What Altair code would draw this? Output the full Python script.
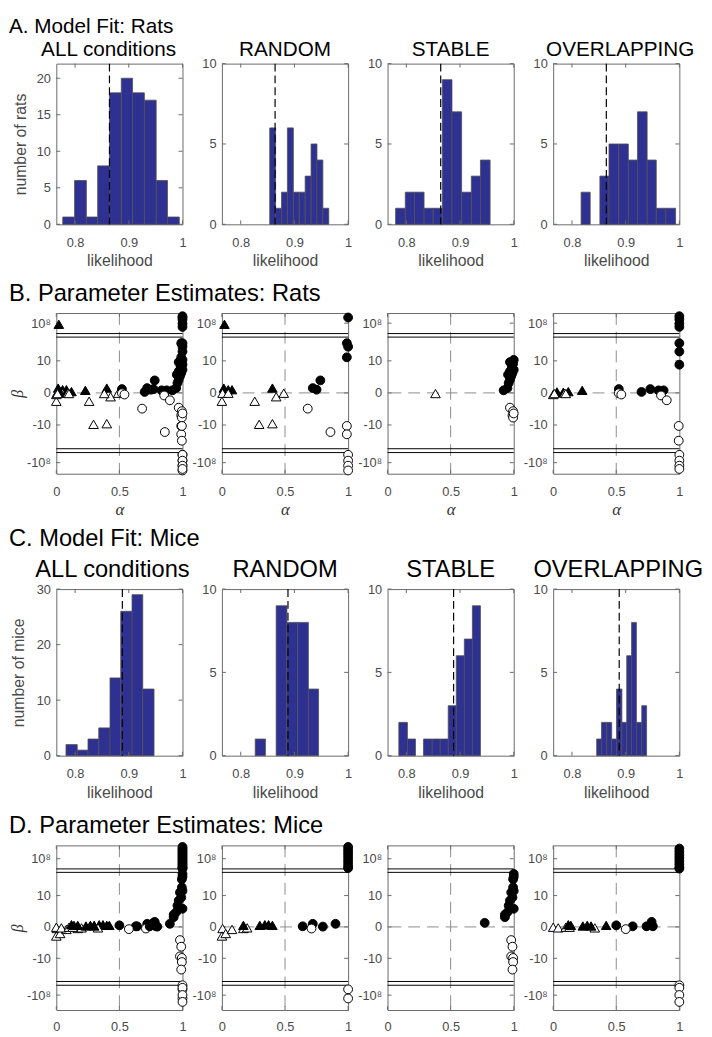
import altair as alt
import pandas as pd
import numpy as np

# ---------------- Histogram data: bin edges and counts ----------------
rats_all_edges = [0.777, 0.799, 0.821, 0.842, 0.864, 0.886, 0.907, 0.929, 0.951, 0.972, 0.994]
rats_all_counts = [1, 6, 1, 8, 18, 20, 18, 17, 6, 1]
rats_random_edges = [0.854, 0.865, 0.876, 0.887, 0.898, 0.909, 0.920, 0.931, 0.942, 0.953, 0.964]
rats_random_counts = [6, 1, 2, 6, 2, 2, 3, 5, 4, 1]
rats_stable_edges = [0.780, 0.798, 0.815, 0.833, 0.850, 0.867, 0.885, 0.903, 0.921, 0.938, 0.956]
rats_stable_counts = [1, 2, 2, 1, 1, 9, 7, 2, 3, 4]
rats_overlap_edges = [0.817, 0.834, 0.852, 0.869, 0.887, 0.905, 0.922, 0.940, 0.957, 0.975, 0.993]
rats_overlap_counts = [2, 0, 3, 5, 5, 4, 7, 4, 1, 1]

mice_all_edges = [0.783, 0.804, 0.824, 0.844, 0.865, 0.885, 0.906, 0.926, 0.947]
mice_all_counts = [2, 1, 3, 5, 14, 26, 29, 12]
mice_random_edges = [0.827, 0.846, 0.866, 0.886, 0.906, 0.926, 0.945]
mice_random_counts = [1, 0, 9, 8, 8, 4]
mice_stable_edges = [0.786, 0.802, 0.817, 0.832, 0.848, 0.863, 0.878, 0.893, 0.908, 0.923, 0.938]
mice_stable_counts = [2, 1, 0, 1, 1, 1, 3, 6, 7, 9]
mice_overlap_edges = [0.846, 0.855, 0.865, 0.874, 0.883, 0.893, 0.902, 0.911, 0.920, 0.930, 0.939]
mice_overlap_counts = [1, 2, 2, 1, 4, 2, 6, 8, 2, 3]

rats_threshold = [0.864]
mice_threshold = [0.888]

# ---------------- Parameter estimates (alpha, beta) ----------------
rats_random_alpha = [0.02, 0.015, 0.05, 0.08, 0.40, 0.005, 0.0, 0.05, 0.26, 0.43, 0.49, 0.295, 0.40,
                     0.68, 0.86, 0.99, 0.99, 1.0, 1.0, 1.0, 1.0, 1.0, 0.99, 1.0, 0.99, 0.78, 0.72, 0.75]
rats_random_beta = [4e7, 1.5, 1.0, 1.0, 1.5, -0.1, -2.6, -0.1, -2.6, -1.2, -0.1, -9.8, -9.6,
                    -4.9, -12.2, -10.3, -12.9, -1.9e5, -2e7, -1.1e9, -5e10, 9e9, 15.5, 14.4, 11.1, 3.9, 1.5, 1.0]

rats_stable_alpha = [0.38, 0.92, 0.95, 0.96, 0.97, 0.955, 0.97, 0.99, 0.995, 0.97, 1.0, 0.99, 1.0, 0.98,
                     0.985, 0.97, 0.995, 0.99, 0.995, 1.0]
rats_stable_beta = [-0.2, 0.8, 1.5, 3.1, 4.1, 5.7, 6.7, 7.7, 9.1, 9.6, 10.3, 6.2, 7.2, 5.2,
                    8.3, -4.6, -5.7, -7.0, -7.7, -6.4]

rats_overlap_alpha = [0.03, 0.08, 0.12, 0.23, 0.0, 0.01, 0.09, 0.10, 0.52, 0.70, 0.77, 0.835, 0.875,
                      0.52, 0.54, 0.855, 0.90, 1.0, 1.0, 1.0, 1.0, 1.0, 1.0, 1.0, 0.995, 0.995,
                      1.0, 1.0, 1.0, 1.0]
rats_overlap_beta = [0.3, 0.2, 0.4, 0.8, -0.5, -0.2, -0.1, -0.2, 1.2, 0.3, 1.2, 0.8, 0.8,
                     -0.1, -0.5, -0.8, -2.3, 2.5e10, 2e9, 7e7, 5e6, 15.5, 12.9, 8.8, -10.3, -14.9,
                     -1.9e5, -2e7, -1.1e9, -1.5e10]

mice_random_alpha = [0.005, 0.0, 0.03, 0.08, 0.17, 0.20, 0.17, 0.30, 0.34, 0.37, 0.40, 0.64, 0.72,
                     0.80, 0.90, 0.71, 1.0, 1.0, 1.0, 1.0, 1.0, 1.0, 1.0, 1.0, 1.0, 1.0]
mice_random_beta = [-0.5, -2.9, -2.1, -0.8, -0.5, -0.3, 0.5, 0.5, 0.7, 0.7, 0.5, 0.2, 1.0,
                    0.1, 1.0, -0.5, 1.5e12, 1.1e11, 9e9, 7e8, 5e7, 4e6, 3e5, 5e4, -9e5, -1.5e9]

mice_stable_alpha = [0.77, 0.93, 0.93, 0.95, 0.96, 0.97, 0.98, 0.995, 0.995, 1.0, 0.99, 1.0, 1.0, 1.0,
                     0.98, 0.99, 0.98, 0.995, 0.995, 0.99]
mice_stable_beta = [1.3, 3.1, 3.9, 4.7, 6.8, 8.4, 11.0, 12.6, 15.2, 5.8, 9.4, 11.5, 16.0, 16.9,
                    -4.2, -6.3, -9.4, -9.9, -11.2, -13.6]

mice_overlap_alpha = [0.0, 0.04, 0.10, 0.13, 0.33, 0.12, 0.14, 0.235, 0.27, 0.30, 0.42, 0.50, 0.63,
                      0.74, 0.78, 0.79, 0.575, 1.0, 1.0, 1.0, 1.0, 1.0, 1.0, 1.0, 1.0,
                      1.0, 1.0, 1.0, 1.0]
mice_overlap_beta = [-0.1, -0.3, -0.1, -0.1, -0.3, 0.7, 0.5, 0.3, 0.5, 0.3, 0.5, 0.5, 0.2,
                     0.2, 1.6, 0.2, -0.7, 4e11, 3e10, 2.5e9, 2e8, 1.5e7, 1.1e6, 9e4, 3.2e4,
                     -3.2e4, -2.5e5, -9e7, -2.5e10]

# axis ticks / break levels of the broken beta axis
beta_tick_values = [-1e8, -10, 0, 10, 1e8]
axis_break_levels = [17.4, 18.5, -17.4, -18.6]
hist_x_ticks = [0.8, 0.9, 1.0]
alpha_ticks = [0, 0.5, 1]
ref_alpha = [0.5]
ref_beta = [0.0]

# ---------------- styling ----------------
FONT = "Liberation Sans"
SERIF = "Liberation Serif"
TXT = "#4a4a4a"
BAR = "#2e3192"
FRAME = "#6a6a6a"
W = 128
HA, HB, HC, HD = 163, 163, 169, 167
TICK = 4


def to_axis(b):
    """Broken axis: linear near zero, compressed log for huge values."""
    if abs(b) <= 17.0:
        return float(b)
    return float(np.sign(b) * (18.6 + (np.log10(abs(b)) - 4.5) * 0.9))


def text_layer(text, x, y, align, size):
    return alt.Chart(pd.DataFrame({"t": [text]})).mark_text(
        align=align, baseline="alphabetic", font=FONT, fontSize=size, color="black"
    ).encode(text="t:N", x=alt.value(x), y=alt.value(y))


def inner_ticks(xvals, xsc, xax, yvals, ysc, yax, height):
    """MATLAB-style inward tick marks on all four sides of the box."""
    xdf = pd.DataFrame({"tx": xvals})
    ydf = pd.DataFrame({"ty": yvals})
    style = dict(color=FRAME, strokeWidth=1)
    top = alt.Chart(xdf).mark_rule(**style).encode(
        x=alt.X("tx:Q", scale=xsc, axis=xax), y=alt.value(0), y2=alt.value(TICK))
    bottom = alt.Chart(xdf).mark_rule(**style).encode(
        x=alt.X("tx:Q", scale=xsc, axis=xax), y=alt.value(height), y2=alt.value(height - TICK))
    left = alt.Chart(ydf).mark_rule(**style).encode(
        y=alt.Y("ty:Q", scale=ysc, axis=yax), x=alt.value(0), x2=alt.value(TICK))
    right = alt.Chart(ydf).mark_rule(**style).encode(
        y=alt.Y("ty:Q", scale=ysc, axis=yax), x=alt.value(W), x2=alt.value(W - TICK))
    return [top, bottom, left, right]


def hist_panel(edges, counts, ymax, yticks, thr, height, ylabel, sub, sub_y, sub_dx,
               heading=None, head_y=0, head_size=24, sub_size=24, ytitle_x=-36):
    df = pd.DataFrame({"lo": edges[:-1], "hi": edges[1:], "n": counts})
    df = df[df["n"] > 0]
    xsc = alt.Scale(domain=[0.765, 1.0], nice=False, zero=False)
    ysc = alt.Scale(domain=[0, ymax], nice=False)
    xax = alt.Axis(values=hist_x_ticks, format="~g", labelFlush=False, labelPadding=12,
                   title="likelihood", titleX=W / 2, titleY=42, titleBaseline="alphabetic",
                   titleAlign="center", titleFontSize=16)
    if ylabel:
        yax = alt.Axis(values=yticks, labelPadding=6, title=ylabel, titleX=ytitle_x,
                       titleY=height / 2, titleBaseline="middle", titleAlign="center",
                       titleAngle=270, titleFontSize=16)
    else:
        yax = alt.Axis(values=yticks, labelPadding=6, title=None)
    bars = alt.Chart(df).mark_rect(color=BAR, stroke="#505050", strokeWidth=0.8).encode(
        x=alt.X("lo:Q", scale=xsc, axis=xax),
        x2="hi:Q",
        y=alt.Y("n:Q", scale=ysc, axis=yax),
        y2=alt.datum(0),
    )
    rule = alt.Chart(pd.DataFrame({"thr": thr})).mark_rule(
        color="black", strokeDash=[8, 4], strokeWidth=1.2
    ).encode(x=alt.X("thr:Q", scale=xsc, axis=xax))
    layers = [bars, rule] + inner_ticks(hist_x_ticks, xsc, xax, yticks, ysc, yax, height)
    layers.append(text_layer(sub, W / 2 + sub_dx, sub_y, "center", sub_size))
    if heading:
        layers.append(text_layer(heading, -48, head_y, "left", head_size))
    return alt.layer(*layers).properties(width=W, height=height)


def scatter_panel(alpha, beta, height, ydom, first, heading=None, head_y=0, show_alpha=True):
    df = pd.DataFrame({"alpha": alpha, "beta": beta})
    df["u"] = [to_axis(b) for b in beta]
    df["shape"] = np.where(df["alpha"] < 0.5, "triangle-up", "circle")
    df["fill"] = np.where(df["beta"] > 0, "black", "white")
    df["size"] = np.where(df["alpha"] < 0.5, 95, 80)
    xsc = alt.Scale(domain=[0, 1], nice=False, zero=False)
    ysc = alt.Scale(domain=ydom, nice=False, zero=False)
    tick_u = [to_axis(v) for v in beta_tick_values]
    lab = ("datum.value > 15 ? '10\u2078' : (datum.value < -15 ? '-10\u2078' : "
           "(datum.value < 0 ? '-' + format(-datum.value, 'd') : format(datum.value, 'd')))")
    if show_alpha:
        xax = alt.Axis(values=alpha_ticks, format="~g", labelFlush=False, labelPadding=12,
                       title="\u03b1", titleFont=SERIF, titleFontStyle="italic", titleFontSize=17,
                       titleX=W / 2, titleY=41, titleBaseline="alphabetic", titleAlign="center",
                       titleColor="#333333")
    else:
        xax = alt.Axis(values=alpha_ticks, format="~g", labelFlush=False, labelPadding=11,
                       title=None)
    if first:
        yax = alt.Axis(values=tick_u, labelExpr=lab, labelPadding=6, title="\u03b2",
                       titleFont=SERIF, titleFontStyle="italic", titleFontSize=16,
                       titleX=-39, titleY=height / 2, titleBaseline="middle",
                       titleAlign="center", titleAngle=270, titleColor="#333333")
    else:
        yax = alt.Axis(values=tick_u, labelExpr=lab, labelPadding=6, title=None)
    vline = alt.Chart(pd.DataFrame({"alpha": ref_alpha})).mark_rule(
        color="#8c8c8c", strokeDash=[12, 7], strokeWidth=1
    ).encode(x=alt.X("alpha:Q", scale=xsc, axis=xax))
    hline = alt.Chart(pd.DataFrame({"u": ref_beta})).mark_rule(
        color="#8c8c8c", strokeDash=[12, 7], strokeWidth=1
    ).encode(y=alt.Y("u:Q", scale=ysc, axis=yax))
    brk = alt.Chart(pd.DataFrame({"u": axis_break_levels})).mark_rule(
        color="black", strokeWidth=1
    ).encode(y=alt.Y("u:Q", scale=ysc, axis=yax))
    pts = alt.Chart(df).mark_point(opacity=1, stroke="black", strokeWidth=1).encode(
        x=alt.X("alpha:Q", scale=xsc, axis=xax),
        y=alt.Y("u:Q", scale=ysc, axis=yax),
        shape=alt.Shape("shape:N", scale=None),
        fill=alt.Fill("fill:N", scale=None),
        size=alt.Size("size:Q", scale=None),
    )
    layers = [vline, hline, brk] + inner_ticks(alpha_ticks, xsc, xax, tick_u, ysc, yax, height)
    layers.append(pts)
    if heading:
        layers.append(text_layer(heading, -48, head_y, "left", 24))
    return alt.layer(*layers).properties(width=W, height=height)


def spacer(h):
    return alt.Chart(pd.DataFrame({"v": [0]})).mark_point(opacity=0).encode(
        x=alt.value(0), y=alt.value(0)
    ).properties(width=W, height=h, view=alt.ViewBackground(stroke="transparent"))


# ---------------- build rows ----------------
rowA = [
    hist_panel(rats_all_edges, rats_all_counts, 22, [0, 5, 10, 15, 20], rats_threshold, HA,
               "number of rats", "ALL conditions", -7.5, -11, heading="A. Model Fit: Rats",
               head_y=-31, head_size=21, sub_size=21),
    hist_panel(rats_random_edges, rats_random_counts, 10, [0, 5, 10], rats_threshold, HA,
               None, "RANDOM", -7.5, 0, sub_size=21),
    hist_panel(rats_stable_edges, rats_stable_counts, 10, [0, 5, 10], rats_threshold, HA,
               None, "STABLE", -7.5, 0, sub_size=21),
    hist_panel(rats_overlap_edges, rats_overlap_counts, 10, [0, 5, 10], rats_threshold, HA,
               None, "OVERLAPPING", -7.5, 4, sub_size=21),
]

rats_all_alpha = rats_random_alpha + rats_stable_alpha + rats_overlap_alpha
rats_all_beta = rats_random_beta + rats_stable_beta + rats_overlap_beta
mice_all_alpha = mice_random_alpha + mice_stable_alpha + mice_overlap_alpha
mice_all_beta = mice_random_beta + mice_stable_beta + mice_overlap_beta

domB = [-25.2, 24.9]
domD = [-26.5, 26.0]
rowB = [
    scatter_panel(rats_all_alpha, rats_all_beta, HB, domB, True,
                  heading="B. Parameter Estimates: Rats", head_y=-12),
    scatter_panel(rats_random_alpha, rats_random_beta, HB, domB, False),
    scatter_panel(rats_stable_alpha, rats_stable_beta, HB, domB, False),
    scatter_panel(rats_overlap_alpha, rats_overlap_beta, HB, domB, False),
]

rowC = [
    hist_panel(mice_all_edges, mice_all_counts, 30, [0, 10, 20, 30], mice_threshold, HC,
               "number of mice", "ALL conditions", -12.3, -7, heading="C. Model Fit: Mice",
               head_y=-44, ytitle_x=-38),
    hist_panel(mice_random_edges, mice_random_counts, 10, [0, 5, 10], mice_threshold, HC,
               None, "RANDOM", -12.3, 0),
    hist_panel(mice_stable_edges, mice_stable_counts, 10, [0, 5, 10], mice_threshold, HC,
               None, "STABLE", -12.3, 0),
    hist_panel(mice_overlap_edges, mice_overlap_counts, 10, [0, 5, 10], mice_threshold, HC,
               None, "OVERLAPPING", -12.3, 2),
]

rowD = [
    scatter_panel(mice_all_alpha, mice_all_beta, HD, domD, True,
                  heading="D. Parameter Estimates: Mice", head_y=-12.3, show_alpha=False),
    scatter_panel(mice_random_alpha, mice_random_beta, HD, domD, False, show_alpha=False),
    scatter_panel(mice_stable_alpha, mice_stable_beta, HD, domD, False, show_alpha=False),
    scatter_panel(mice_overlap_alpha, mice_overlap_beta, HD, domD, False, show_alpha=False),
]

cells = (rowA + [spacer(90)] * 4 + rowB + [spacer(117)] * 4 + rowC + [spacer(91)] * 4 + rowD)

chart = alt.concat(
    *cells, columns=4, spacing=alt.RowColnumber(row=0, column=40), bounds="flush", padding=0
).configure_view(
    stroke=FRAME, strokeWidth=1
).configure_axis(
    labelFont=FONT, labelFontSize=13, labelColor=TXT, titleFont=FONT, titleColor=TXT,
    titleFontWeight="normal", ticks=False, domain=False, grid=False
)

chart.save("out.html", embed_options={"renderer": "svg", "actions": False})
